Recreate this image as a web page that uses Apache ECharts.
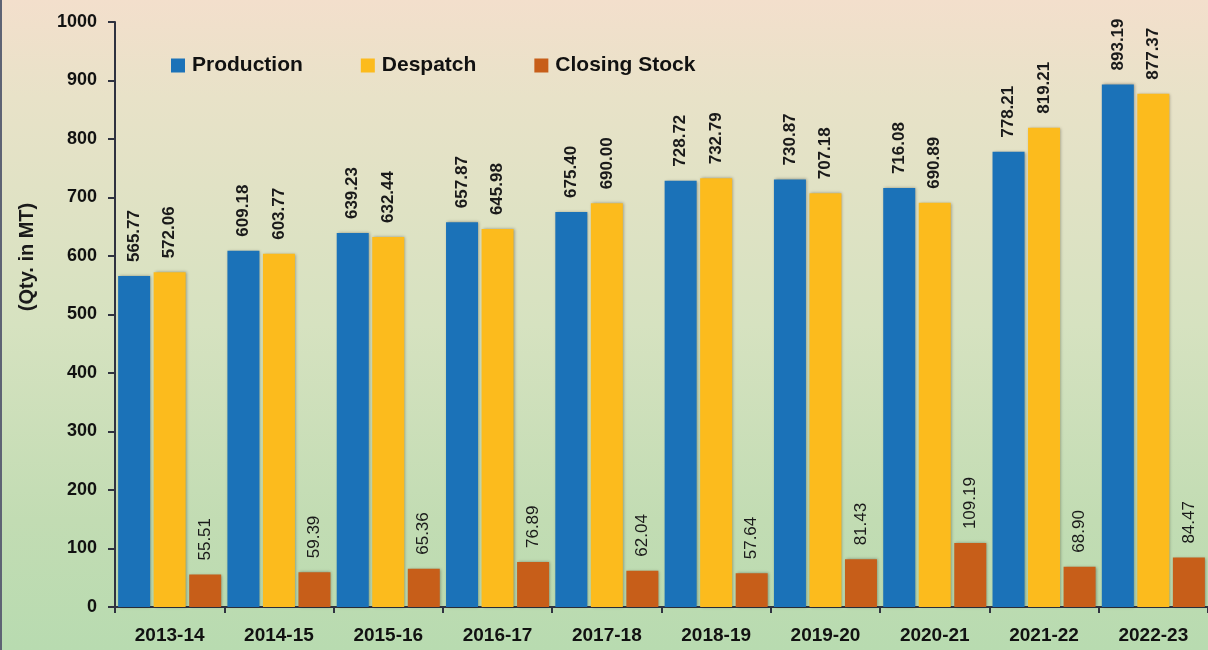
<!DOCTYPE html>
<html>
<head>
<meta charset="utf-8">
<script src="https://cdn.jsdelivr.net/npm/echarts@6/dist/echarts.min.js"></script>
<style>
  html, body { margin: 0; padding: 0; }
  #chart { width: 1208px; height: 650px; }
</style>
</head>
<body>
<div id="chart"></div>
<script>
// data
var years = ['2013-14', '2014-15', '2015-16', '2016-17', '2017-18', '2018-19', '2019-20', '2020-21', '2021-22', '2022-23']
var production = [565.77, 609.18, 639.23, 657.87, 675.40, 728.72, 730.87, 716.08, 778.21, 893.19]
var despatch = [572.06, 603.77, 632.44, 645.98, 690.00, 732.79, 707.18, 690.89, 819.21, 877.37]
var closingStock = [55.51, 59.39, 65.36, 76.89, 62.04, 57.64, 81.43, 109.19, 68.90, 84.47]

var font = '"Liberation Sans", Arial, sans-serif'

function barLabel (bold) {
  return {
    show: true,
    position: 'top',
    rotate: 90,
    align: 'left',
    verticalAlign: 'middle',
    distance: 14,
    fontFamily: font,
    fontSize: 17,
    fontWeight: bold ? 'bold' : 'normal',
    color: '#1a1a1a',
    formatter: function (p) { return p.value.toFixed(2) }
  }
}

function barSeries (name, data, color, bold) {
  return {
    name: name,
    type: 'bar',
    data: data,
    barWidth: 32,
    barGap: '11%',
    itemStyle: {
      color: color,
      shadowColor: 'rgba(0,0,0,0.35)',
      shadowBlur: 3,
      shadowOffsetX: 1,
      shadowOffsetY: 0
    },
    label: barLabel(bold)
  }
}

var chart = echarts.init(document.getElementById('chart'))
chart.setOption({
  animation: false,
  backgroundColor: {
    type: 'linear', x: 0, y: 0, x2: 0, y2: 1,
    colorStops: [
      { offset: 0, color: '#f3dfcc' },
      { offset: 0.15, color: '#e8e2c8' },
      { offset: 0.5, color: '#d6e2c0' },
      { offset: 0.8, color: '#c2dcb3' },
      { offset: 1, color: '#b8dbb0' }
    ]
  },
  textStyle: { fontFamily: font },
  graphic: [
    {
      type: 'line',
      shape: { x1: 1, y1: 0, x2: 1, y2: 650 },
      style: { stroke: '#5e6374', lineWidth: 2 }
    },
    {
      type: 'text',
      x: 27,
      y: 257,
      rotation: Math.PI / 2,
      style: {
        text: '(Qty. in MT)',
        fontFamily: font,
        fontSize: 20,
        fontWeight: 'bold',
        fill: '#1a1a1a',
        align: 'center',
        verticalAlign: 'middle'
      }
    }
  ],
  legend: {
    left: 166,
    top: 50,
    itemWidth: 14,
    itemHeight: 14,
    itemGap: 58,
    icon: 'rect',
    textStyle: {
      fontFamily: font,
      fontSize: 21,
      fontWeight: 'bold',
      color: '#111',
      padding: [0, 0, 0, 2]
    },
    data: ['Production', 'Despatch', 'Closing Stock']
  },
  grid: {
    left: 115,
    top: 22,
    bottom: 43,
    width: 1097
  },
  xAxis: {
    type: 'category',
    data: years,
    axisLine: { lineStyle: { color: '#2f3240', width: 2 } },
    axisTick: { show: true, length: 6, lineStyle: { color: '#2f3240', width: 2 } },
    axisLabel: {
      fontFamily: font,
      fontSize: 19,
      fontWeight: 'bold',
      color: '#111',
      margin: 19
    }
  },
  yAxis: {
    type: 'value',
    min: 0,
    max: 1000,
    interval: 100,
    splitLine: { show: false },
    axisLine: { show: true, lineStyle: { color: '#2f3240', width: 2 } },
    axisTick: { show: true, length: 7, lineStyle: { color: '#2f3240', width: 2 } },
    axisLabel: {
      fontFamily: font,
      fontSize: 18,
      fontWeight: 'bold',
      color: '#111',
      margin: 18,
      formatter: function (v) { return String(v) }
    }
  },
  series: [
    barSeries('Production', production, '#1b72b8', true),
    barSeries('Despatch', despatch, '#fcbb1d', true),
    barSeries('Closing Stock', closingStock, '#c75e19', false)
  ]
})
</script>
</body>
</html>
